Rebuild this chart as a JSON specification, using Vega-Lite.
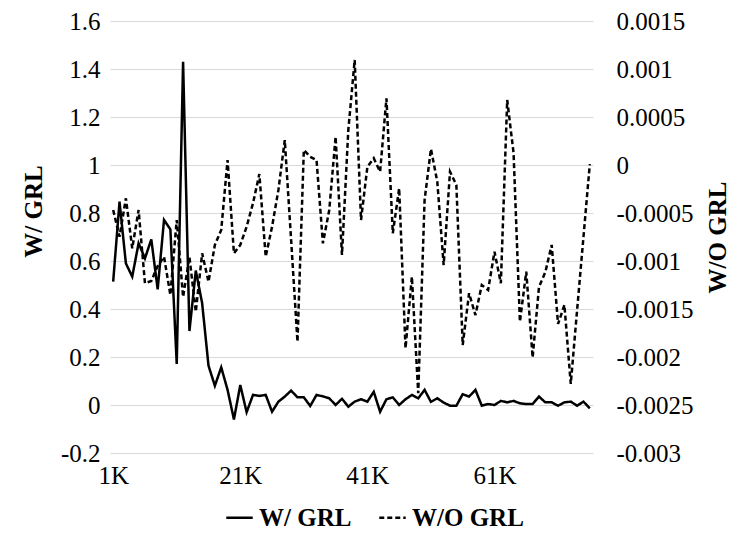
{
  "$schema": "https://vega.github.io/schema/vega-lite/v6.json",
  "width": 483,
  "height": 432,
  "autosize": {"type": "none"},
  "padding": {"left": 110, "top": 21, "right": 154, "bottom": 87},
  "background": "white",
  "config": {
    "view": {"stroke": null},
    "font": "Liberation Serif",
    "axis": {"labelFont": "Liberation Serif", "labelFontSize": 25, "labelColor": "#000", "titleFont": "Liberation Serif", "titleFontSize": 25, "titleFontWeight": "bold", "titleColor": "#000", "domain": false, "ticks": false, "labelFlush": false, "labelOverlap": false}
  },
  "data": {"values": [
    {"k":1,"w":0.514,"wo":-0.000469},{"k":2,"w":0.847,"wo":-0.000747},{"k":3,"w":0.59,"wo":-0.000347},{"k":4,"w":0.535,"wo":-0.000868},
    {"k":5,"w":0.674,"wo":-0.000469},{"k":6,"w":0.611,"wo":-0.001232},{"k":7,"w":0.69,"wo":-0.001208},{"k":8,"w":0.482,"wo":-0.001052},
    {"k":9,"w":0.771,"wo":-0.000955},{"k":10,"w":0.732,"wo":-0.001354},{"k":11,"w":0.171,"wo":-0.000573},{"k":12,"w":1.43,"wo":-0.001375},
    {"k":13,"w":0.308,"wo":-0.000958},{"k":14,"w":0.56,"wo":-0.001528},{"k":15,"w":0.424,"wo":-0.00092},{"k":16,"w":0.164,"wo":-0.001216},
    {"k":17,"w":0.08,"wo":-0.000833},{"k":18,"w":0.157,"wo":-0.000677},{"k":19,"w":0.063,"wo":0.000052},{"k":20,"w":-0.06,"wo":-0.00092},
    {"k":21,"w":0.083,"wo":-0.000833},{"k":22,"w":-0.03,"wo":-0.000643},{"k":23,"w":0.042,"wo":-0.000399},{"k":24,"w":0.038,"wo":-0.000094},
    {"k":25,"w":0.042,"wo":-0.000955},{"k":26,"w":-0.028,"wo":-0.000643},{"k":27,"w":0.014,"wo":-0.00026},{"k":28,"w":0.035,"wo":0.00026},
    {"k":29,"w":0.06,"wo":-0.000781},{"k":30,"w":0.032,"wo":-0.001841},{"k":31,"w":0.032,"wo":0.000156},{"k":32,"w":-0.004,"wo":0.000086},
    {"k":33,"w":0.042,"wo":0.000052},{"k":34,"w":0.036,"wo":-0.000816},{"k":35,"w":0.028,"wo":-0.000469},{"k":36,"w":0,"wo":0.000295},
    {"k":37,"w":0.026,"wo":-0.000938},{"k":38,"w":-0.007,"wo":0.000365},{"k":39,"w":0.014,"wo":0.001094},{"k":40,"w":0.024,"wo":-0.000573},
    {"k":41,"w":0.014,"wo":-0.000018},{"k":42,"w":0.055,"wo":0.00007},{"k":43,"w":-0.028,"wo":-0.00007},{"k":44,"w":0.024,"wo":0.000695},
    {"k":45,"w":0.032,"wo":-0.000711},{"k":46,"w":0,"wo":-0.000243},{"k":47,"w":0.024,"wo":-0.001909},{"k":48,"w":0.042,"wo":-0.001164},
    {"k":49,"w":0.028,"wo":-0.002378},{"k":50,"w":0.063,"wo":-0.000365},{"k":51,"w":0.013,"wo":0.000167},{"k":52,"w":0.028,"wo":-0.000174},
    {"k":53,"w":0.01,"wo":-0.001042},{"k":54,"w":-0.003,"wo":-0.00007},{"k":55,"w":-0.003,"wo":-0.000208},{"k":56,"w":0.045,"wo":-0.001875},
    {"k":57,"w":0.035,"wo":-0.001336},{"k":58,"w":0.063,"wo":-0.001563},{"k":59,"w":-0.003,"wo":-0.00125},{"k":60,"w":0.004,"wo":-0.001302},
    {"k":61,"w":0,"wo":-0.000903},{"k":62,"w":0.017,"wo":-0.001232},{"k":63,"w":0.011,"wo":0.000677},{"k":64,"w":0.017,"wo":0.000125},
    {"k":65,"w":0.007,"wo":-0.001632},{"k":66,"w":0.004,"wo":-0.001111},{"k":67,"w":0.004,"wo":-0.002005},{"k":68,"w":0.035,"wo":-0.001271},
    {"k":69,"w":0.011,"wo":-0.001115},{"k":70,"w":0.011,"wo":-0.000833},{"k":71,"w":-0.003,"wo":-0.001656},{"k":72,"w":0.011,"wo":-0.001458},
    {"k":73,"w":0.014,"wo":-0.002281},{"k":74,"w":-0.003,"wo":-0.00151},{"k":75,"w":0.014,"wo":-0.00075},{"k":76,"w":-0.014,"wo":0.00001}
  ]},
  "encoding": {
    "x": {"field": "k", "type": "quantitative",
      "scale": {"domain": [0.5, 76.5], "nice": false, "zero": false},
      "axis": {"values": [1, 21, 41, 61], "labelExpr": "datum.value + 'K'", "labelFont": "Liberation Serif", "labelFontSize": 25, "grid": false, "title": null, "labelPadding": 10}}
  },
  "layer": [
    {
      "mark": {"type": "line", "color": "#000", "strokeWidth": 2.5, "strokeCap": "butt", "strokeJoin": "miter"},
      "encoding": {
        "y": {"field": "w", "type": "quantitative",
          "scale": {"domain": [-0.2, 1.6], "nice": false, "zero": false},
          "axis": {"orient": "left", "values": [-0.2, 0, 0.2, 0.4, 0.6, 0.8, 1, 1.2, 1.4, 1.6], "labelExpr": "'' + datum.value", "labelFont": "Liberation Serif", "labelFontSize": 25, "grid": true, "gridColor": "#d9d9d9", "gridWidth": 1, "labelPadding": 10, "title": "W/ GRL", "titleFont": "Liberation Serif", "titlePadding": 14, "titleY": 190}},
        "strokeDash": {"datum": "W/ GRL", "type": "nominal",
          "scale": {"domain": ["W/ GRL", "W/O GRL"], "range": [[1, 0], [5, 3]]},
          "legend": {"orient": "none", "legendX": 115, "legendY": 482, "direction": "horizontal", "title": null, "symbolType": "stroke", "symbolSize": 700, "symbolStrokeWidth": 2.5, "symbolStrokeColor": "#000", "labelFont": "Liberation Serif", "labelFontSize": 25, "labelFontWeight": "bold", "labelColor": "#000", "labelOffset": 5, "columnPadding": 22, "labelLimit": 300}}
      }
    },
    {
      "mark": {"type": "line", "color": "#000", "strokeWidth": 2.5, "strokeCap": "butt", "strokeJoin": "miter"},
      "encoding": {
        "y": {"field": "wo", "type": "quantitative",
          "scale": {"domain": [-0.003, 0.0015], "nice": false, "zero": false},
          "axis": {"orient": "right", "values": [-0.003, -0.0025, -0.002, -0.0015, -0.001, -0.0005, 0, 0.0005, 0.001, 0.0015], "labelExpr": "'' + datum.value", "labelFont": "Liberation Serif", "labelFontSize": 25, "grid": false, "labelPadding": 23, "title": "W/O GRL", "titleFont": "Liberation Serif", "titleAngle": -90, "titlePadding": 37}},
        "strokeDash": {"datum": "W/O GRL", "type": "nominal"}
      }
    }
  ],
  "resolve": {"scale": {"y": "independent"}}
}
